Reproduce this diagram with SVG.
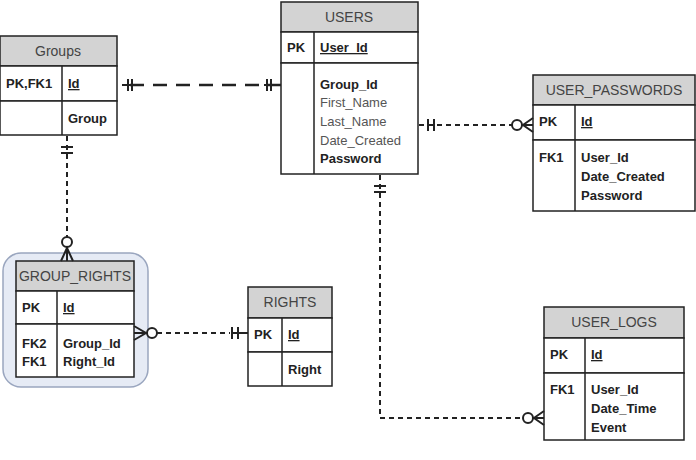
<svg xmlns="http://www.w3.org/2000/svg" width="696" height="460" viewBox="0 0 696 460">
<style>
.b{fill:#fff;stroke:#222;stroke-width:1.5}
.h{fill:#d3d3d3;stroke:#222;stroke-width:1.5}
.l{stroke:#222;stroke-width:1.5}
text{font-family:"Liberation Sans",sans-serif;font-size:13px;fill:#222}
.t{text-anchor:middle;fill:#444;font-size:14px}
.k{font-weight:bold}
.u{font-weight:bold;text-decoration:underline}
.n{fill:#555}
.c{fill:none;stroke:#222;stroke-width:2;stroke-dasharray:5,4}
.m{fill:none;stroke:#222;stroke-width:2}
</style>
<rect width="696" height="460" fill="#fff"/>
<g id="Groups">
<rect class="h" x="0" y="36" width="117" height="30"/><text class="t" x="58" y="56">Groups</text>
<rect class="b" x="0" y="66" width="117" height="35"/><rect class="b" x="0" y="101" width="117" height="34"/>
<line class="l" x1="62" y1="66" x2="62" y2="135"/>
<text class="k" x="6" y="88">PK,FK1</text><text class="u" x="68" y="88">Id</text>
<text class="k" x="68" y="123">Group</text>
</g>
<g id="USERS">
<rect class="h" x="281" y="2" width="137" height="30"/><text class="t" x="349" y="22">USERS</text>
<rect class="b" x="281" y="32" width="137" height="31"/><rect class="b" x="281" y="63" width="137" height="111"/>
<line class="l" x1="314" y1="32" x2="314" y2="174"/>
<text class="k" x="287" y="52">PK</text><text class="u" x="320" y="52">User_Id</text>
<text class="k" x="320" y="89">Group_Id</text>
<text class="n" x="320" y="107">First_Name</text><text class="n" x="320" y="126">Last_Name</text>
<text class="n" x="320" y="145">Date_Created</text><text class="k" x="320" y="163">Password</text>
</g>
<g id="USER_PASSWORDS">
<rect class="h" x="533" y="75" width="162" height="30"/><text class="t" x="614" y="95">USER_PASSWORDS</text>
<rect class="b" x="533" y="105" width="162" height="35"/><rect class="b" x="533" y="140" width="162" height="71"/>
<line class="l" x1="575" y1="105" x2="575" y2="211"/>
<text class="k" x="539" y="126">PK</text><text class="u" x="581" y="126">Id</text>
<text class="k" x="539" y="162">FK1</text>
<text class="k" x="581" y="162">User_Id</text><text class="k" x="581" y="181">Date_Created</text><text class="k" x="581" y="200">Password</text>
</g>
<g id="GROUP_RIGHTS">
<rect x="3" y="253" width="145" height="134" rx="18" fill="#e6ebf5" stroke="#9aa6bf" stroke-width="1.5"/>
<rect class="h" x="16" y="261" width="118" height="30"/><text class="t" x="75" y="281">GROUP_RIGHTS</text>
<rect class="b" x="16" y="291" width="118" height="33"/><rect class="b" x="16" y="324" width="118" height="53"/>
<line class="l" x1="57" y1="291" x2="57" y2="377"/>
<text class="k" x="22" y="312">PK</text><text class="u" x="63" y="312">Id</text>
<text class="k" x="22" y="348">FK2</text><text class="k" x="22" y="366">FK1</text>
<text class="k" x="63" y="348">Group_Id</text><text class="k" x="63" y="366">Right_Id</text>
</g>
<g id="RIGHTS">
<rect class="h" x="248" y="287" width="84" height="31"/><text class="t" x="290" y="307">RIGHTS</text>
<rect class="b" x="248" y="318" width="84" height="34"/><rect class="b" x="248" y="352" width="84" height="34"/>
<line class="l" x1="282" y1="318" x2="282" y2="386"/>
<text class="k" x="254" y="339">PK</text><text class="u" x="288" y="339">Id</text>
<text class="k" x="288" y="374">Right</text>
</g>
<g id="USER_LOGS">
<rect class="h" x="544" y="307" width="140" height="31"/><text class="t" x="614" y="327">USER_LOGS</text>
<rect class="b" x="544" y="338" width="140" height="35"/><rect class="b" x="544" y="373" width="140" height="67"/>
<line class="l" x1="585" y1="338" x2="585" y2="440"/>
<text class="k" x="550" y="359">PK</text><text class="u" x="591" y="359">Id</text>
<text class="k" x="550" y="394">FK1</text>
<text class="k" x="591" y="394">User_Id</text><text class="k" x="591" y="413">Date_Time</text><text class="k" x="591" y="432">Event</text>
</g>
<g id="connectors">
<path d="M122 85H281" fill="none" stroke="#222" stroke-width="2.5" stroke-dasharray="14,9" stroke-dashoffset="-8"/>
<path class="m" d="M122 85h14M128 79v12M132 79v12M264 85h17M267 79v12M271 79v12"/>
<path class="c" d="M67 136V237"/>
<path class="m" d="M61 147h12M61 153h12"/>
<circle cx="67" cy="242" r="5" fill="#fff" stroke="#222" stroke-width="2"/>
<path class="m" d="M67 247V261M61 261L67 248L73 261"/>
<path class="c" d="M419 125H512"/>
<path class="m" d="M428 119v12M429 125h4M434 119v12"/>
<circle cx="517" cy="125" r="5" fill="#fff" stroke="#222" stroke-width="2"/>
<path class="m" d="M522 125H533M533 118L523 125L533 132"/>
<path class="c" d="M380 175V418H523"/>
<path class="m" d="M374 186h12M374 192h12"/>
<circle cx="528" cy="418" r="5" fill="#fff" stroke="#222" stroke-width="2"/>
<path class="m" d="M533 418H544M544 411L534 418L544 425"/>
<path class="c" d="M157 333H230"/>
<circle cx="152" cy="333" r="5" fill="#fff" stroke="#222" stroke-width="2"/>
<path class="m" d="M134 333H147M134 326L146 333L134 340"/>
<path class="m" d="M232 327v12M232 333h6M238 327v12M238 333H248"/>
</g>
</svg>
